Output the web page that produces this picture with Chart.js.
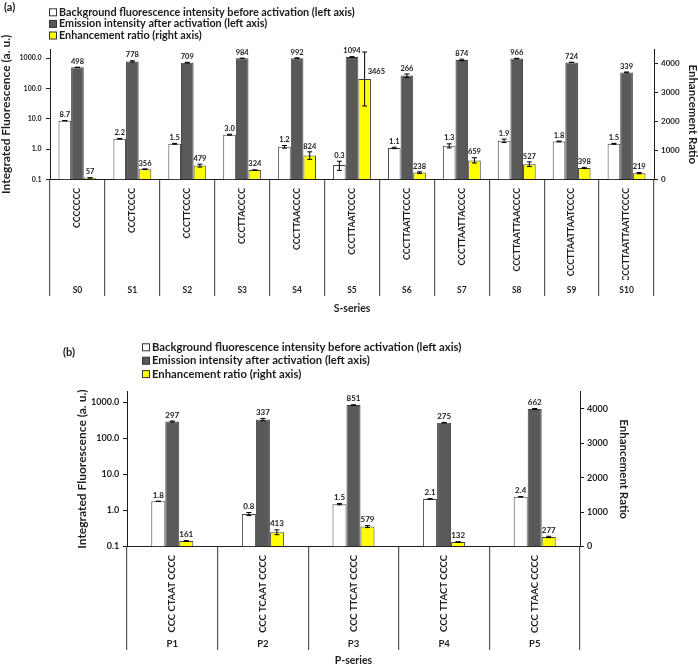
<!DOCTYPE html>
<html>
<head>
<meta charset="utf-8">
<script src="https://cdn.jsdelivr.net/npm/chart.js@4.4.0/dist/chart.umd.min.js"></script>
<style>
  body { margin: 0; background: #fff; }
  canvas { display: block; }
</style>
</head>
<body>
<canvas id="chartS" width="698" height="330"></canvas>
<canvas id="chartP" width="698" height="336"></canvas>
<script>
// S-series
const sSequences = ['CCCCCCC', 'CCCTCCCC', 'CCCTTCCCC', 'CCCTTACCCC', 'CCCTTAACCCC', 'CCCTTAATCCCC',
  'CCCTTAATTCCCC', 'CCCTTAATTACCCC', 'CCCTTAATTAACCCC', 'CCCTTAATTAATCCCC', 'CCCTTAATTAATTCCCC'];
const sGroups = ['S0', 'S1', 'S2', 'S3', 'S4', 'S5', 'S6', 'S7', 'S8', 'S9', 'S10'];
const sBackground = [8.7, 2.2, 1.5, 3.0, 1.2, 0.3, 1.1, 1.3, 1.9, 1.8, 1.5];
const sBackgroundErr = [0.1, 0.05, 0.05, 0.1, 0.12, 0.1, 0.06, 0.2, 0.25, 0.05, 0.05];
const sEmission = [498, 778, 709, 984, 992, 1094, 266, 874, 966, 724, 339];
const sEmissionErr = [5, 40, 20, 10, 30, 20, 35, 50, 20, 10, 10];
const sRatio = [57, 356, 479, 324, 824, 3465, 238, 659, 527, 398, 219];
const sRatioErr = [5, 10, 50, 10, 130, 930, 25, 90, 80, 20, 20];

// P-series
const pSequences = ['CCC CTAAT CCCC', 'CCC TCAAT CCCC', 'CCC TTCAT CCCC', 'CCC TTACT CCCC', 'CCC TTAAC CCCC'];
const pGroups = ['P1', 'P2', 'P3', 'P4', 'P5'];
const pBackground = [1.8, 0.8, 1.5, 2.1, 2.4];
const pBackgroundErr = [0.02, 0.08, 0.06, 0.02, 0.02];
const pEmission = [297, 337, 851, 275, 662];
const pEmissionErr = [10, 25, 10, 6, 20];
const pRatio = [161, 413, 579, 132, 277];
const pRatioErr = [10, 70, 30, 5, 20];

// axes
const leftTicks = [0.1, 1, 10, 100, 1000];
const rightTicks = [0, 1000, 2000, 3000, 4000];

const legendLabels = ['Background fluorescence intensity before activation (left axis)',
  'Emission intensity after activation (left axis)',
  'Enhancement ratio (right axis)'];

Chart.defaults.font.family = 'Lato, "Liberation Sans", sans-serif';
Chart.defaults.font.weight = 'bold';
Chart.defaults.color = '#1f1f1f';

// error bars + value labels, drawn from the scales
const barNotes = {
  id: 'barNotes',
  afterDatasetsDraw(chart, args, opts) {
    const ctx = chart.ctx;
    chart.data.datasets.forEach((ds, di) => {
      const meta = chart.getDatasetMeta(di);
      const scale = chart.scales[ds.yAxisID];
      meta.data.forEach((bar, i) => {
        const v = ds.data[i], e = ds.errors[i];
        const yHi = scale.getPixelForValue(v + e);
        const yLo = scale.getPixelForValue(Math.max(v - e, scale.min));
        ctx.save();
        ctx.strokeStyle = '#000';
        ctx.lineWidth = 1;
        ctx.beginPath();
        ctx.moveTo(bar.x, yHi); ctx.lineTo(bar.x, yLo);
        ctx.moveTo(bar.x - 2.5, yHi); ctx.lineTo(bar.x + 2.5, yHi);
        ctx.moveTo(bar.x - 2.5, yLo); ctx.lineTo(bar.x + 2.5, yLo);
        ctx.stroke();
        ctx.font = 'bold ' + opts.size + 'px ' + Chart.defaults.font.family;
        ctx.fillStyle = '#1a1a1a';
        const txt = v.toFixed(ds.decimals);
        if (bar.y - yHi > 15) {
          ctx.textAlign = 'left';
          ctx.textBaseline = 'middle';
          ctx.fillText(txt, bar.x + 3, bar.y - 7);
        } else {
          ctx.textAlign = 'center';
          ctx.textBaseline = 'bottom';
          ctx.fillText(txt, bar.x, Math.min(bar.y, yHi) - 2);
        }
        ctx.restore();
      });
    });
  }
};

// panel tag and three-row legend
const panelText = {
  id: 'panelText',
  afterDraw(chart, args, o) {
    const ctx = chart.ctx;
    ctx.save();
    ctx.textBaseline = 'middle';
    ctx.textAlign = 'left';
    ctx.fillStyle = '#1a1a1a';
    ctx.font = 'bold 11px ' + Chart.defaults.font.family;
    ctx.fillText(o.tag, o.tagX, o.tagY);
    ctx.font = 'bold ' + o.size + 'px ' + Chart.defaults.font.family;
    chart.data.datasets.forEach((ds, i) => {
      const y = o.y + i * o.gap;
      ctx.fillStyle = ds.backgroundColor;
      ctx.fillRect(o.x, y - 3.5, 7, 7);
      ctx.strokeStyle = '#333';
      ctx.lineWidth = 1;
      ctx.strokeRect(o.x + 0.5, y - 3.5, 7, 7);
      ctx.fillStyle = '#1a1a1a';
      ctx.fillText(ds.label, o.x + 10, y);
    });
    ctx.restore();
  }
};

function makePanel(id, g, sequences, groups, bg, bgErr, em, emErr, ratio, ratioErr, seriesTitle) {
  const ctx = document.getElementById(id).getContext('2d');
  return new Chart(ctx, {
    type: 'bar',
    data: {
      labels: sequences,
      datasets: [
        { label: legendLabels[0], data: bg, errors: bgErr, decimals: 1, yAxisID: 'y',
          backgroundColor: '#ffffff', borderColor: '#404040', borderWidth: 1 },
        { label: legendLabels[1], data: em, errors: emErr, decimals: 0, yAxisID: 'y',
          backgroundColor: '#595959', borderColor: '#404040', borderWidth: 1 },
        { label: legendLabels[2], data: ratio, errors: ratioErr, decimals: 0, yAxisID: 'y1',
          backgroundColor: '#ffff00', borderColor: '#404040', borderWidth: 1 }
      ]
    },
    options: {
      responsive: false,
      animation: false,
      devicePixelRatio: 1,
      events: [],
      categoryPercentage: g.catPct,
      barPercentage: 1,
      layout: { padding: { top: g.padTop, left: g.padLeft, right: g.padRight, bottom: 0 } },
      plugins: {
        legend: { display: false },
        tooltip: { enabled: false },
        barNotes: { size: g.valueSize },
        panelText: g.legend
      },
      scales: {
        x: {
          type: 'category', position: 'bottom', weight: 0, offset: true,
          grid: { offset: true, drawOnChartArea: false, drawTicks: true, tickLength: g.tableTick,
                  color: '#555555', lineWidth: 1.2 },
          border: { display: true, color: '#1f1f1f' },
          ticks: { autoSkip: false, minRotation: 90, maxRotation: 90, padding: g.seqPad,
                   font: { size: g.seqSize } },
          afterFit: s => { s.height = g.seqH; }
        },
        x2: {
          type: 'category', position: 'bottom', weight: 1, offset: true, labels: groups,
          grid: { display: false, drawTicks: false },
          border: { display: false },
          ticks: { autoSkip: false, maxRotation: 0, padding: g.grpPad, font: { size: g.grpSize } },
          title: { display: true, text: seriesTitle, font: { size: 10.5, lineHeight: 1.2 },
                   padding: { top: 0, bottom: g.titlePad } },
          afterFit: s => { s.height = g.grpH; }
        },
        y: {
          type: 'logarithmic', position: 'left', min: 0.1, max: 2000,
          grid: { drawOnChartArea: false, tickLength: 4, color: '#1f1f1f' },
          border: { color: '#1f1f1f' },
          ticks: { padding: g.yPad, font: { size: g.yTickSize }, callback: v => Number(v).toFixed(1) },
          afterBuildTicks: s => { s.ticks = leftTicks.map(v => ({ value: v })); },
          title: { display: true, text: 'Integrated Fluorescence (a. u.)', font: { size: 12, lineHeight: 1.1 },
                   padding: { top: g.yTitlePad, bottom: 0 } },
          afterFit: s => { s.width = g.yW; }
        },
        y1: {
          type: 'linear', position: 'right', min: 0, max: 4500,
          grid: { drawOnChartArea: false, tickLength: 4, color: '#1f1f1f' },
          border: { color: '#1f1f1f' },
          ticks: { padding: 3, font: { size: g.y1TickSize }, callback: v => String(v) },
          afterBuildTicks: s => { s.ticks = rightTicks.map(v => ({ value: v })); },
          title: { display: true, text: 'Enhancement Ratio', font: { size: 11.5, lineHeight: 1 },
                   padding: { top: g.y1TitlePad, bottom: 0 } },
          afterFit: s => { s.width = g.y1W; }
        }
      }
    },
    plugins: [barNotes, panelText]
  });
}

makePanel('chartS', {
  padTop: 49, padLeft: 0, padRight: 0, catPct: 0.69,
  yW: 50, y1W: 44, yPad: 4.5, yTitlePad: 0, y1TitlePad: 0, yTickSize: 7, y1TickSize: 8,
  seqH: 100.5, tableTick: 116.5, seqPad: -108, seqSize: 8.8,
  grpH: 50, grpPad: 5, grpSize: 8.5, titlePad: 14.7, valueSize: 7.5,
  legend: { tag: '(a)', tagX: 4, tagY: 7, x: 49, y: 12.3, gap: 11.6, size: 10.8 }
}, sSequences, sGroups, sBackground, sBackgroundErr, sEmission, sEmissionErr, sRatio, sRatioErr, 'S-series');

makePanel('chartP', {
  padTop: 61.7, padLeft: 75, padRight: 68, catPct: 0.4636,
  yW: 52, y1W: 50, yPad: 3.7, yTitlePad: 0.5, y1TitlePad: 1, yTickSize: 9, y1TickSize: 9,
  seqH: 87.5, tableTick: 103.5, seqPad: -95, seqSize: 9.5,
  grpH: 32, grpPad: 4.3, grpSize: 9.5, titlePad: -1.3, valueSize: 8,
  legend: { tag: '(b)', tagX: 63, tagY: 22, x: 142, y: 17.3, gap: 13.4, size: 11.3 }
}, pSequences, pGroups, pBackground, pBackgroundErr, pEmission, pEmissionErr, pRatio, pRatioErr, 'P-series');
</script>
</body>
</html>
